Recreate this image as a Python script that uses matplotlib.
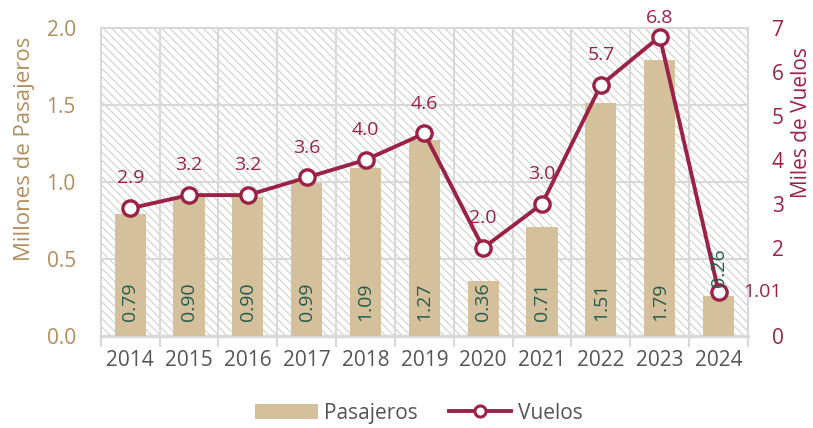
import matplotlib
matplotlib.use("Agg")
import matplotlib.pyplot as plt
from matplotlib.patches import Rectangle
from matplotlib.lines import Line2D
from matplotlib.patches import Patch

years = ["2014", "2015", "2016", "2017", "2018", "2019", "2020", "2021", "2022", "2023", "2024"]
pasajeros = [0.79, 0.90, 0.90, 0.99, 1.09, 1.27, 0.36, 0.71, 1.51, 1.79, 0.26]
vuelos = [2.9, 3.2, 3.2, 3.6, 4.0, 4.6, 2.0, 3.0, 5.7, 6.8, 1.01]
vuelos_lbl = ["2.9", "3.2", "3.2", "3.6", "4.0", "4.6", "2.0", "3.0", "5.7", "6.8", "1.01"]

BAR = "#d4c19c"
MAROON = "#9b2247"
GREEN = "#235b4e"
TAN = "#b38e5d"
GRID = "#d9d9d9"
GRAYTXT = "#555555"

plt.rcParams['font.family'] = ['Open Sans', 'DejaVu Sans']
plt.rcParams['hatch.linewidth'] = 0.8
plt.rcParams['hatch.color'] = '#d0d0d0'

fig = plt.figure(figsize=(8.13, 4.28), dpi=100)
ax = fig.add_axes([0.124, 0.215, 0.796, 0.720])
x = list(range(len(years)))

ax.set_xlim(-0.5, len(years) - 0.5)
ax.set_ylim(0, 2.0)

# hatched background
bg = Rectangle((0, 0), 1, 1, transform=ax.transAxes, facecolor='white',
               edgecolor='#d0d0d0', hatch='\\\\\\\\', linewidth=0, zorder=0)
ax.add_patch(bg)

ax.bar(x, pasajeros, width=0.53, color=BAR, zorder=3)

# grid
ax.set_yticks([0, 0.5, 1.0, 1.5, 2.0])
ax.set_yticklabels(["0.0", "0.5", "1.0", "1.5", "2.0"])
ax.set_xticks(x)
ax.set_xticklabels(years)
ax.set_xticks([i - 0.5 for i in range(len(years) + 1)], minor=True)
ax.yaxis.grid(True, color=GRID, linewidth=1.5, zorder=1)
ax.xaxis.grid(True, which='minor', color=GRID, linewidth=1.5, zorder=1)
ax.set_axisbelow(True)
ax.tick_params(axis='x', which='major', length=0, labelsize=15, labelcolor=GRAYTXT, pad=10)
ax.tick_params(axis='x', which='minor', length=8, color=GRID, width=1.5)
ax.tick_params(axis='y', length=0, labelsize=15, labelcolor=TAN, pad=18)
for s in ax.spines.values():
    s.set_color(GRID)
    s.set_linewidth(1.5)
ax.spines['bottom'].set_linewidth(2.5)

ax.set_ylabel("Millones de Pasajeros", color=TAN, fontsize=16)
ax.yaxis.set_label_coords(-0.102, 0.607)

ax2 = ax.twinx()
ax2.set_ylim(0, 7)
ax2.set_yticks(range(8))
ax2.set_yticklabels(["0", "", "2", "3", "4", "5", "6", "7"])
ax2.tick_params(axis='y', length=0, labelsize=15, labelcolor=MAROON, pad=17)
for s in ax2.spines.values():
    s.set_visible(False)
ax2.plot(x, vuelos, color=MAROON, linewidth=2.8, marker='o', markersize=11,
         markerfacecolor='white', markeredgecolor=MAROON, markeredgewidth=2.4, zorder=5)
ax2.set_ylabel("Miles de Vuelos", color=MAROON, fontsize=15)
ax2.yaxis.set_label_coords(1.066, 0.692)

# bar labels (drawn on top axes so they sit above the line)
for xi, v in zip(x, pasajeros):
    yv = v + 0.06 if v < 0.3 else 0.10
    ax2.text(xi, yv, f"{v:.2f}", rotation=90, ha='center', va='bottom',
             color=GREEN, fontsize=14, zorder=7, transform=ax.transData)

top_i = vuelos.index(max(vuelos))
for i, (xi, v, lbl) in enumerate(zip(x, vuelos, vuelos_lbl)):
    if i == len(x) - 1:
        ax2.annotate(lbl, (xi, v), xytext=(18, 0), textcoords='offset points',
                     ha='left', va='center', color=MAROON, fontsize=14, annotation_clip=False)
    else:
        off = 7 if i == top_i else 15
        ax2.annotate(lbl, (xi, v), xytext=(0, off), textcoords='offset points',
                     ha='center', va='bottom', color=MAROON, fontsize=14, annotation_clip=False)

handles = [Patch(facecolor=BAR, edgecolor='none'),
           Line2D([0], [0], color=MAROON, linewidth=2.8, marker='o', markersize=8,
                  markerfacecolor='white', markeredgecolor=MAROON, markeredgewidth=2.2)]
fig.legend(handles, ["Pasajeros", "Vuelos"], loc='center', bbox_to_anchor=(0.515, 0.035),
           ncol=2, frameon=False, fontsize=15, labelcolor=GRAYTXT, handlelength=3.0,
           columnspacing=1.5, handletextpad=0.3)

fig.savefig("out.png", dpi=100)
